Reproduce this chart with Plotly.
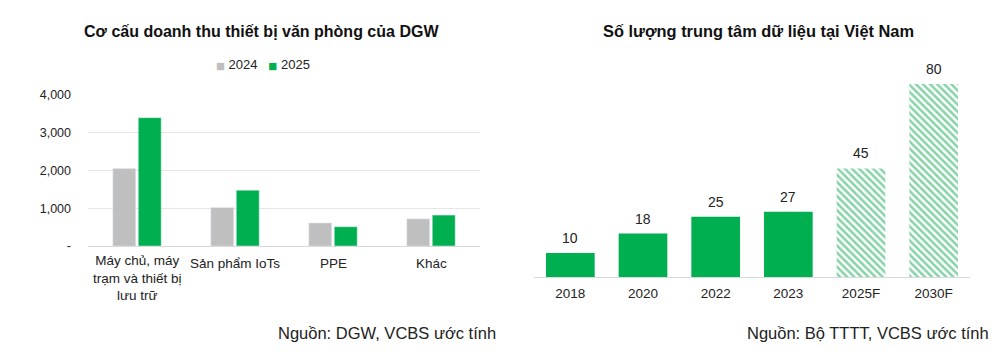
import plotly.graph_objects as go

# Left chart data
left_categories = ["Máy chủ, máy<br>trạm và thiết bị<br>lưu trữ", "Sản phẩm IoTs", "PPE", "Khác"]
values_2024 = [2050, 1020, 610, 720]
values_2025 = [3400, 1480, 510, 820]
left_tickvals = [0, 1000, 2000, 3000, 4000]
left_ticktext = ["-", "1,000", "2,000", "3,000", "4,000"]

# Right chart data
right_categories = ["2018", "2020", "2022", "2023", "2025F", "2030F"]
right_values = [10, 18, 25, 27, 45, 80]
forecast_flags = [False, False, False, False, True, True]

W, H = 997, 362
OFF = 8  # page body margin offset
GREEN = "#00B050"
GRAY = "#BFBFBF"
HATCH = "#86D3A8"
FONT = "Liberation Sans, Arial, sans-serif"


def px_x(p):
    return (p - OFF) / W


def px_y(p):
    return 1 - (p - OFF) / H


fig = go.Figure()

fig.add_trace(go.Bar(x=left_categories, y=values_2024, name="2024",
                     marker_color=GRAY, xaxis="x", yaxis="y", showlegend=False))
fig.add_trace(go.Bar(x=left_categories, y=values_2025, name="2025",
                     marker_color=GREEN, xaxis="x", yaxis="y", showlegend=False))

act_x = [c for c, f in zip(right_categories, forecast_flags) if not f]
act_y = [v for v, f in zip(right_values, forecast_flags) if not f]
fc_x = [c for c, f in zip(right_categories, forecast_flags) if f]
fc_y = [v for v, f in zip(right_values, forecast_flags) if f]

fig.add_trace(go.Bar(
    x=act_x, y=act_y, xaxis="x2", yaxis="y2", showlegend=False, offsetgroup="r",
    marker=dict(color=GREEN, line=dict(width=0)), width=0.67,
))
fig.add_trace(go.Bar(
    x=fc_x, y=fc_y, xaxis="x2", yaxis="y2", showlegend=False, offsetgroup="r",
    marker=dict(color="#FFFFFF", line=dict(width=0),
                pattern=dict(shape="\\", fillmode="replace", fgcolor=HATCH, bgcolor="#FFFFFF",
                             size=5, solidity=0.5)),
    width=0.67,
))

annotations = [
    dict(text="<b>Cơ cấu doanh thu thiết bị văn phòng của DGW</b>", x=px_x(262), y=px_y(31),
         xref="paper", yref="paper", showarrow=False, font=dict(size=16, color="#111111"),
         xanchor="center", yanchor="middle"),
    dict(text="<b>Số lượng trung tâm dữ liệu tại Việt Nam</b>", x=px_x(758), y=px_y(31),
         xref="paper", yref="paper", showarrow=False, font=dict(size=16.4, color="#111111"),
         xanchor="center", yanchor="middle"),
    dict(text=('<span style="font-family:DejaVu Sans;font-size:9.5px;color:#BFBFBF">■</span>&nbsp;2024'
               '&nbsp;&nbsp;&nbsp;'
               '<span style="font-family:DejaVu Sans;font-size:9.5px;color:#00B050">■</span>&nbsp;2025'),
         x=px_x(263), y=px_y(65), xref="paper", yref="paper", showarrow=False,
         font=dict(size=13, color="#222222"), xanchor="center", yanchor="middle"),
    dict(text="Nguồn: DGW, VCBS ước tính", x=px_x(276), y=px_y(333),
         xref="paper", yref="paper", showarrow=False, font=dict(size=16.5, color="#222222"),
         xanchor="left", yanchor="middle"),
    dict(text="Nguồn: Bộ TTTT, VCBS ước tính", x=px_x(745), y=px_y(333),
         xref="paper", yref="paper", showarrow=False, font=dict(size=16.5, color="#222222"),
         xanchor="left", yanchor="middle"),
]

# left category labels (x given as category index)
for i, cat in enumerate(left_categories):
    n = len(cat.split("<br>"))
    annotations.append(dict(text=cat, x=i, xref="x", y=px_y(263 + (n - 1) * 7.4), yref="paper",
                            showarrow=False, font=dict(size=13.5, color="#222222"),
                            xanchor="center", yanchor="middle", align="center"))

# right value labels (x given as category index)
for i, v in enumerate(right_values):
    annotations.append(dict(text=str(v), x=i, y=v, xref="x2", yref="y2", showarrow=False,
                            font=dict(size=14, color="#222222"), xanchor="center",
                            yanchor="bottom", yshift=5))

fig.update_layout(
    width=W, height=H, margin=dict(l=0, r=0, t=0, b=0),
    paper_bgcolor="white", plot_bgcolor="white",
    font=dict(family=FONT, color="#222222", size=13),
    barmode="group", bargap=0.48, bargroupgap=0.1,
    showlegend=False,
    xaxis=dict(type="category", domain=[px_x(88), px_x(480)], anchor="y", showline=True,
               linecolor="#D9D9D9", linewidth=1, ticks="", showticklabels=False,
               range=[-0.5, len(left_categories) - 0.5], automargin=False),
    yaxis=dict(domain=[px_y(246), px_y(95)], range=[0, 4000], tickvals=left_tickvals,
               ticktext=left_ticktext, showgrid=True, gridcolor="#E6E6E6", gridwidth=1,
               zeroline=False, tickfont=dict(size=12.5), ticks="", ticklabelstandoff=16,
               automargin=False),
    xaxis2=dict(type="category", domain=[px_x(534), px_x(970)], anchor="y2", showline=True,
                linecolor="#D9D9D9", linewidth=1, ticks="", tickfont=dict(size=13.5),
                automargin=False, ticklabelstandoff=4, categoryorder="array",
                categoryarray=right_categories, range=[-0.5, len(right_categories) - 0.5]),
    yaxis2=dict(domain=[px_y(277), px_y(84)], range=[0, 80], visible=False, automargin=False),
    annotations=annotations,
)

fig.write_html("out.html")
